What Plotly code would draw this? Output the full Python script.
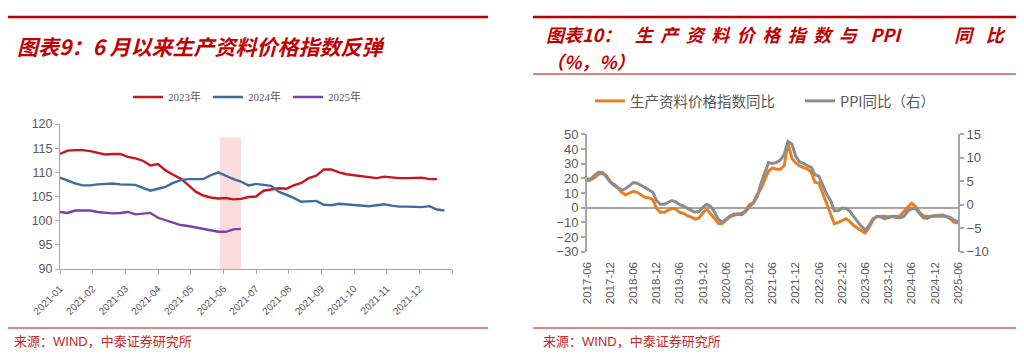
import pandas as pd
import plotly.graph_objects as go

# page body has an 8px default margin: size the figure so that it fills the window exactly
PAGE_OFF = 8
W, H = 1024 - PAGE_OFF, 356 - PAGE_OFF


def px(x):
    return (x - PAGE_OFF) / W


def py(y):
    return 1 - (y - PAGE_OFF) / H


# ---------------- Left chart data (weekly index, 2023/2024/2025) ----------------
month_labels = ["2021-01", "2021-02", "2021-03", "2021-04", "2021-05", "2021-06",
                "2021-07", "2021-08", "2021-09", "2021-10", "2021-11", "2021-12"]
weeks_in_year = 52
series_names_left = ["2023年", "2024年", "2025年"]
idx_2023 = [113.8, 114.5, 114.6, 114.6, 114.4, 114.0, 113.7, 113.8, 113.8, 113.2,
            112.9, 112.4, 111.4, 111.7, 110.4, 109.5, 108.7, 107.4, 106.0, 105.2,
            104.8, 104.6, 104.7, 104.4, 104.5, 104.9, 105.0, 106.2, 106.5, 106.7,
            106.6, 107.3, 107.8, 108.8, 109.3, 110.6, 110.6, 110.0, 109.6, 109.4,
            109.2, 109.0, 108.8, 109.1, 108.9, 108.8, 108.8, 108.8, 108.9, 108.6,
            108.6]
idx_2024 = [108.9, 108.3, 107.7, 107.3, 107.3, 107.5, 107.6, 107.7, 107.5, 107.5,
            107.4, 106.8, 106.2, 106.6, 107.0, 107.8, 108.4, 108.6, 108.6, 108.6,
            109.4, 110.0, 109.3, 108.6, 108.1, 107.3, 107.6, 107.4, 107.2, 106.0,
            105.4, 104.7, 103.9, 104.0, 104.1, 103.3, 103.2, 103.5, 103.4, 103.3,
            103.2, 103.0, 103.2, 103.4, 103.1, 102.9, 102.9, 102.8, 102.8, 103.0,
            102.3, 102.1]
idx_2025 = [101.8, 101.6, 102.1, 102.1, 102.1, 101.8, 101.6, 101.5, 101.6, 101.8,
            101.3, 101.5, 101.6, 100.6, 100.1, 99.6, 99.1, 98.9, 98.6, 98.2,
            97.9, 97.7, 97.7, 98.2, 98.3]
highlight_weeks = [21.2, 24.0]
highlight_top = 117.2

# ---------------- Right chart data (monthly, 2017-06 .. 2025-06) ----------------
months_right = pd.date_range("2017-06-01", "2025-06-01", freq="MS")
series_names_right = ["生产资料价格指数同比", "PPI同比（右）"]
means_yoy = [18.4, 18.9, 20.5, 22.8, 23.3, 22.0, 17.5,
             15.0, 13.2, 10.5, 8.8, 9.8, 11.2, 10.5, 8.5, 7.0, 6.8, 5.5, -0.5,
             -3.2, -3.0, -2.0, -0.5, -1.0, -3.2, -3.8, -5.5, -6.5, -7.8, -7.0, -3.5,
             -1.0, -4.5, -7.5, -10.7, -10.7, -8.5, -6.2, -5.2, -4.3, -4.0, -2.0, 2.0,
             3.5, 9.2, 12.5, 18.9, 25.0, 27.0, 26.1, 26.1, 28.5, 44.0, 33.5, 30.5,
             28.5, 27.3, 26.5, 24.5, 17.3, 16.8, 10.0, 2.0, -5.0, -11.0, -10.0, -8.5,
             -7.5, -9.5, -12.0, -14.0, -15.8, -17.3, -13.5, -8.5, -6.0, -5.7, -5.9, -6.1,
             -6.1, -6.0, -5.7, -2.5, 0.5, 3.0, 1.0, -3.0, -5.5, -6.0, -5.8, -5.7,
             -5.7, -5.7, -6.0, -7.5, -10.0, -10.2]
ppi_yoy = [5.5, 5.5, 6.3, 6.9, 6.9, 5.8, 4.9,
           4.3, 3.7, 3.1, 3.4, 4.1, 4.7, 4.6, 4.1, 3.6, 3.3, 2.7, 0.9,
           0.1, 0.1, 0.4, 0.9, 0.6, 0.0, -0.3, -0.8, -1.2, -1.6, -1.4, -0.5,
           0.1, -0.4, -1.5, -3.1, -3.7, -3.0, -2.4, -2.0, -2.1, -2.1, -1.5, -0.4,
           0.3, 1.7, 4.4, 6.8, 9.0, 8.8, 9.0, 9.5, 10.7, 13.5, 12.9, 10.3,
           9.1, 8.8, 8.3, 8.0, 6.4, 6.1, 4.2, 2.3, 0.9, -1.3, -1.3, -0.7,
           -0.8, -1.4, -2.5, -3.6, -4.6, -5.4, -4.4, -3.0, -2.5, -2.6, -3.0, -2.7,
           -2.5, -2.7, -2.8, -2.5, -1.4, -0.8, -0.8, -1.8, -2.8, -2.9, -2.5, -2.3,
           -2.3, -2.2, -2.5, -2.7, -3.3, -3.6]
right_tick_months = months_right[::6]

# ---------------- styles ----------------
RED = "#C00000"
AXIS_GREY = "#A6A6A6"
TICK_TXT = "#595959"
CJK = "Noto Sans CJK SC"
SERIF = "Liberation Serif, Noto Sans CJK SC"

fig = go.Figure()

left_colors = ["#C8161D", "#3E6C9C", "#7F3FA8"]
for name, vals, col in zip(series_names_left, [idx_2023, idx_2024, idx_2025], left_colors):
    fig.add_trace(go.Scatter(x=list(range(len(vals))), y=vals, name=name, mode="lines",
                             line=dict(color=col, width=2.4), xaxis="x", yaxis="y",
                             legend="legend"))

fig.add_trace(go.Scatter(x=months_right, y=means_yoy, name=series_names_right[0], mode="lines",
                         line=dict(color="#E87D22", width=3), xaxis="x2", yaxis="y2",
                         legend="legend2"))
fig.add_trace(go.Scatter(x=months_right, y=ppi_yoy, name=series_names_right[1], mode="lines",
                         line=dict(color="#8C8C8C", width=3), xaxis="x2", yaxis="y3",
                         legend="legend2"))

# geometry of right plot
r_top, r_bot = 134.3, 251.7
zero_frac = 30 / 80
zero_paper = py(r_bot) + zero_frac * (py(r_top) - py(r_bot))

fig.update_layout(
    template="none",
    width=W, height=H, autosize=False,
    margin=dict(l=0, r=0, t=0, b=0, pad=0),
    paper_bgcolor="white", plot_bgcolor="rgba(0,0,0,0)",
    showlegend=True,
    xaxis=dict(domain=[px(60), px(452)], range=[0, weeks_in_year],
               tickmode="array",
               tickvals=[i * weeks_in_year / 12 for i in range(13)],
               ticktext=month_labels + [""], tickangle=-45,
               showline=True, linecolor=AXIS_GREY, linewidth=1,
               ticks="outside", ticklen=4, tickcolor=AXIS_GREY,
               ticklabelstandoff=5,
               showgrid=False, zeroline=False, anchor="y", automargin=False,
               tickfont=dict(family="Arial", size=10, color=TICK_TXT)),
    yaxis=dict(domain=[py(269), py(124)], range=[90, 120], dtick=5,
               showline=True, linecolor=AXIS_GREY, linewidth=1,
               ticks="outside", ticklen=4, tickcolor=AXIS_GREY,
               showgrid=False, zeroline=False, anchor="x", automargin=False,
               tickfont=dict(family="Arial", size=12.5, color=TICK_TXT)),
    xaxis2=dict(domain=[px(587), px(958)], type="date",
                range=[months_right[0], months_right[-1]],
                tickmode="array", tickvals=list(right_tick_months),
                tickformat="%Y-%m", tickangle=-90,
                showline=False, ticks="", showgrid=False, zeroline=False,
                ticklabelstandoff=7,
                anchor="y2", automargin=False,
                tickfont=dict(family="Arial", size=11.5, color=TICK_TXT)),
    xaxis3=dict(domain=[px(587), px(958)], type="date", overlaying="x2",
                range=[months_right[0], months_right[-1]],
                tickmode="array", tickvals=list(right_tick_months),
                showticklabels=False, showline=False, ticks="outside", ticklen=4,
                tickcolor=AXIS_GREY, tickwidth=1.5, showgrid=False, zeroline=False,
                anchor="free", position=zero_paper, automargin=False),
    yaxis2=dict(domain=[py(r_bot), py(r_top)], range=[-30, 50], dtick=10,
                showline=True, linecolor=AXIS_GREY, linewidth=2,
                ticks="outside", ticklen=4, tickcolor=AXIS_GREY, tickwidth=1.5,
                showgrid=False, zeroline=True, zerolinecolor=AXIS_GREY, zerolinewidth=2,
                anchor="x2", automargin=False,
                tickfont=dict(family="Arial", size=13, color=TICK_TXT)),
    yaxis3=dict(domain=[py(r_bot), py(r_top)], range=[-10, 15], dtick=5,
                overlaying="y2", side="right", anchor="x2",
                showline=True, linecolor=AXIS_GREY, linewidth=2,
                ticks="outside", ticklen=4, tickcolor=AXIS_GREY, tickwidth=1.5,
                showgrid=False, zeroline=False, automargin=False,
                tickfont=dict(family="Arial", size=13, color=TICK_TXT)),
    legend=dict(x=px(128), y=py(97), xanchor="left", yanchor="middle",
                orientation="h", bgcolor="rgba(0,0,0,0)", borderwidth=0,
                entrywidth=35, entrywidthmode="pixels",
                font=dict(family=SERIF, size=11, color=TICK_TXT)),
    legend2=dict(x=px(590), y=py(101), xanchor="left", yanchor="middle",
                 orientation="h", bgcolor="rgba(0,0,0,0)", borderwidth=0,
                 entrywidth=165, entrywidthmode="pixels",
                 font=dict(family=CJK, size=14.5, color=TICK_TXT)),
)

# highlight band (left chart)
fig.add_shape(type="rect", xref="x", yref="y",
              x0=highlight_weeks[0], x1=highlight_weeks[1], y0=90, y1=highlight_top,
              fillcolor="#F9DCDC", line=dict(width=0), layer="below")

# decorative rules
for x0, x1 in [(4, 488), (533, 1017)]:
    fig.add_shape(type="line", xref="paper", yref="paper", x0=px(x0), x1=px(x1),
                  y0=py(17), y1=py(17), line=dict(color=RED, width=2.5))
    fig.add_shape(type="line", xref="paper", yref="paper", x0=px(x0), x1=px(x1),
                  y0=py(328), y1=py(328), line=dict(color="#E08585", width=2))
fig.add_shape(type="line", xref="paper", yref="paper", x0=px(533), x1=px(1017),
              y0=py(74), y1=py(74), line=dict(color=RED, width=1))

# titles
fig.add_annotation(xref="paper", yref="paper", x=px(15), y=py(46), xanchor="left",
                   yanchor="middle", showarrow=False,
                   text="<b><i>图表9：6 月以来生产资料价格指数反弹</i></b>",
                   font=dict(family=CJK, size=21, color=RED))
sep = "\u2005\u2006"
line1 = ("图表10：\u2002\u2005" + sep.join("生产资料价格指数与") + "\u2002\u2005PPI"
         + "\u2002\u2002\u2002\u2002\u2002\u2002" + "同\u2002\u2005比")
fig.add_annotation(xref="paper", yref="paper", x=px(544), y=py(34), xanchor="left",
                   yanchor="middle", showarrow=False,
                   text="<b><i>" + line1 + "</i></b>",
                   font=dict(family=CJK, size=18, color=RED))
fig.add_annotation(xref="paper", yref="paper", x=px(544), y=py(61), xanchor="left",
                   yanchor="middle", showarrow=False,
                   text="<b><i>（%，%）</i></b>",
                   font=dict(family=CJK, size=18, color=RED))

# sources
for x in [12, 541]:
    fig.add_annotation(xref="paper", yref="paper", x=px(x), y=py(341), xanchor="left",
                       yanchor="middle", showarrow=False,
                       text="来源：WIND，中泰证券研究所",
                       font=dict(family="Arial, " + CJK, size=13, color="#C8262B"))

fig.write_html("out.html")
